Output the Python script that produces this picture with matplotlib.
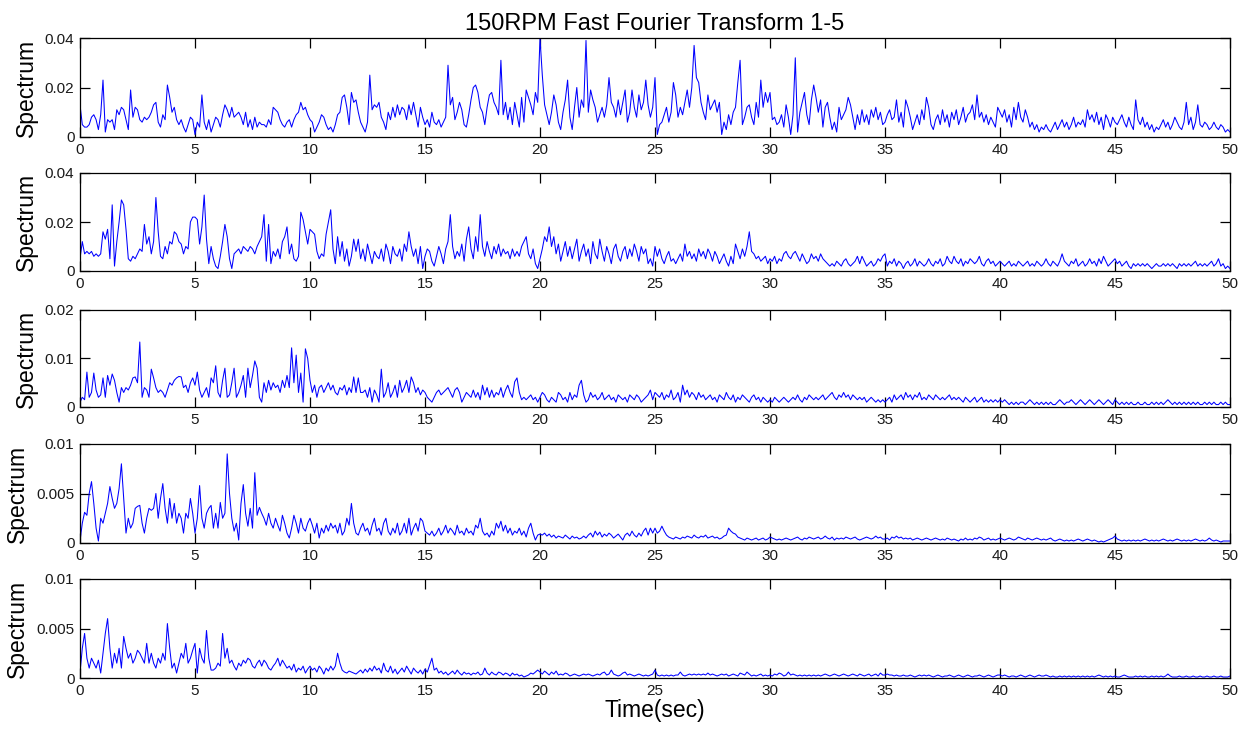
import numpy as np
import matplotlib
matplotlib.use("Agg")
import matplotlib.pyplot as plt

plt.rcParams['font.family'] = ['Liberation Sans', 'DejaVu Sans']

# Time axis shared by all five channels (0 to 50 s, 0.1 s resolution)
time_sec = np.linspace(0, 50, 501)

# Channel 1 spectrum, units of 1e-3
spectrum_1 = [
    13, 5, 4, 4, 5, 8, 9, 7, 3, 9,
    23, 2, 7, 6, 7, 3, 11, 9, 12, 11,
    7, 3, 19, 8, 12, 11, 7, 6, 8, 7,
    8, 10, 13, 14, 6, 4, 9, 7, 21, 16,
    10, 12, 7, 5, 7, 4, 2, 5, 8, 7,
    1, 6, 4, 17, 6, 3, 7, 2, 5, 8,
    7, 4, 9, 13, 11, 8, 12, 8, 9, 10,
    8, 5, 10, 4, 7, 3, 8, 4, 6, 5,
    5, 4, 7, 5, 12, 11, 10, 7, 5, 4,
    6, 7, 4, 7, 9, 10, 14, 11, 12, 9,
    7, 6, 2, 4, 6, 9, 8, 5, 3, 4,
    2, 5, 9, 10, 16, 17, 12, 5, 18, 14,
    15, 10, 6, 4, 2, 6, 25, 11, 13, 12,
    14, 8, 6, 3, 10, 7, 12, 8, 13, 9,
    12, 11, 7, 13, 9, 14, 9, 4, 12, 8,
    5, 7, 4, 10, 6, 5, 7, 4, 6, 8,
    29, 13, 16, 7, 10, 14, 11, 5, 4, 9,
    15, 20, 21, 18, 12, 10, 5, 12, 17, 18,
    14, 12, 9, 31, 9, 14, 7, 12, 5, 14,
    9, 4, 16, 6, 19, 16, 13, 9, 18, 14,
    40, 25, 13, 9, 5, 10, 17, 13, 6, 3,
    10, 15, 23, 8, 3, 12, 20, 8, 15, 12,
    39, 10, 19, 15, 12, 6, 9, 12, 8, 13,
    24, 14, 12, 8, 15, 9, 14, 19, 6, 10,
    19, 12, 8, 17, 11, 14, 23, 13, 8, 12,
    24, 1, 5, 6, 9, 12, 6, 10, 22, 17,
    8, 12, 9, 14, 19, 12, 20, 37, 24, 22,
    14, 10, 7, 17, 11, 13, 15, 10, 14, 1,
    6, 3, 9, 5, 10, 12, 22, 31, 5, 8,
    12, 13, 8, 5, 14, 8, 23, 12, 18, 14,
    18, 7, 8, 5, 6, 9, 4, 13, 8, 1,
    9, 32, 2, 10, 14, 18, 9, 5, 15, 21,
    16, 10, 15, 4, 12, 14, 8, 3, 6, 2,
    12, 7, 9, 11, 16, 13, 8, 3, 9, 5,
    11, 6, 9, 5, 11, 8, 12, 7, 10, 5,
    6, 9, 11, 7, 8, 15, 6, 10, 4, 15,
    12, 8, 3, 6, 9, 5, 11, 7, 16, 12,
    5, 3, 7, 9, 5, 11, 6, 9, 4, 10,
    7, 11, 5, 8, 12, 6, 9, 10, 13, 7,
    17, 8, 10, 6, 9, 5, 8, 6, 4, 12,
    10, 8, 11, 6, 9, 4, 12, 7, 14, 8,
    6, 11, 8, 4, 6, 3, 5, 2, 4, 3,
    5, 3, 2, 4, 6, 3, 5, 7, 4, 6,
    3, 5, 8, 4, 6, 5, 7, 4, 11, 7,
    9, 6, 10, 5, 8, 3, 9, 7, 4, 8,
    6, 5, 7, 9, 6, 4, 8, 5, 3, 15,
    7, 5, 8, 4, 6, 3, 5, 2, 4, 3,
    5, 7, 4, 6, 3, 5, 8, 6, 4, 3,
    6, 14, 5, 8, 3, 6, 13, 5, 4, 6,
    5, 3, 4, 6, 4, 3, 5, 4, 2, 3,
    2,
]

# Channel 2 spectrum, units of 1e-3
spectrum_2 = [
    5, 12, 7, 8, 7, 8, 6, 7, 6, 7,
    16, 13, 17, 5, 27, 2, 12, 20, 29, 27,
    17, 5, 4, 6, 5, 7, 9, 8, 19, 11,
    14, 7, 12, 30, 16, 6, 5, 10, 7, 12,
    11, 16, 15, 12, 11, 7, 10, 9, 20, 22,
    22, 21, 11, 18, 31, 13, 3, 10, 5, 2,
    1, 6, 12, 19, 14, 5, 1, 7, 8, 9,
    7, 10, 9, 8, 10, 9, 7, 10, 12, 14,
    23, 4, 19, 3, 8, 6, 9, 5, 12, 14,
    18, 7, 11, 5, 4, 6, 24, 21, 16, 11,
    17, 16, 15, 8, 5, 7, 6, 15, 20, 25,
    9, 3, 14, 6, 12, 4, 9, 2, 6, 13,
    8, 13, 5, 9, 4, 11, 7, 3, 8, 6,
    5, 9, 4, 11, 8, 3, 10, 7, 6, 9,
    4, 11, 8, 16, 10, 6, 9, 3, 10, 1,
    6, 9, 8, 4, 2, 6, 10, 7, 3, 9,
    12, 23, 10, 5, 8, 6, 11, 4, 13, 18,
    9, 5, 14, 8, 23, 10, 6, 12, 8, 5,
    10, 7, 11, 6, 9, 7, 8, 5, 9, 6,
    8, 6, 10, 12, 14, 7, 5, 9, 3, 1,
    5, 9, 14, 12, 18, 10, 14, 7, 11, 4,
    8, 12, 6, 10, 5, 9, 13, 4, 8, 11,
    6, 9, 3, 12, 7, 5, 13, 8, 4, 10,
    7, 3, 9, 11, 6, 4, 8, 10, 5, 9,
    6, 11, 8, 4, 10, 7, 9, 3, 5, 2,
    10, 6, 9, 5, 3, 6, 8, 4, 5, 3,
    5, 7, 4, 11, 6, 8, 5, 7, 4, 9,
    6, 8, 5, 9, 7, 4, 8, 6, 3, 5,
    7, 4, 2, 6, 3, 11, 8, 5, 9, 6,
    10, 16, 8, 7, 5, 6, 4, 5, 6, 3,
    5, 4, 6, 3, 5, 4, 7, 8, 6, 5,
    7, 8, 6, 4, 7, 5, 3, 4, 7, 5,
    6, 4, 7, 5, 4, 3, 2, 3, 2, 4,
    3, 2, 4, 5, 3, 2, 3, 4, 6, 3,
    6, 4, 2, 3, 4, 2, 3, 5, 4, 6,
    7, 2, 4, 3, 5, 2, 4, 3, 1, 3,
    4, 2, 3, 5, 2, 4, 3, 2, 3, 5,
    3, 2, 4, 3, 5, 2, 3, 6, 4, 3,
    6, 4, 3, 5, 2, 4, 3, 5, 4, 3,
    4, 6, 3, 2, 4, 5, 3, 4, 2, 3,
    4, 3, 2, 3, 4, 2, 3, 2, 4, 3,
    2, 3, 4, 2, 3, 2, 4, 3, 2, 3,
    5, 3, 2, 4, 3, 2, 4, 7, 4, 3,
    2, 4, 3, 5, 2, 3, 4, 2, 3, 5,
    3, 4, 2, 5, 3, 6, 4, 2, 3, 4,
    5, 3, 4, 2, 3, 4, 2, 1, 3, 2,
    3, 2, 3, 2, 3, 2, 1, 2, 3, 2,
    2, 3, 2, 3, 2, 3, 2, 1, 3, 2,
    3, 2, 3, 2, 3, 4, 2, 3, 2, 3,
    2, 3, 4, 2, 3, 5, 2, 3, 1, 2,
    1,
]

# Channel 3 spectrum, units of 1e-4
spectrum_3 = [
    10, 20, 15, 72, 20, 30, 70, 35, 20, 25,
    60, 20, 65, 45, 68, 55, 30, 10, 40, 30,
    40, 35, 45, 60, 62, 50, 134, 20, 40, 35,
    20, 78, 60, 40, 30, 35, 30, 20, 35, 50,
    45, 55, 60, 63, 62, 40, 45, 30, 50, 60,
    45, 72, 35, 20, 30, 40, 20, 60, 50, 85,
    30, 20, 55, 80, 20, 25, 50, 80, 20, 30,
    45, 65, 20, 80, 40, 65, 95, 80, 20, 10,
    50, 30, 55, 35, 50, 40, 45, 30, 55, 40,
    65, 40, 122, 50, 107, 30, 70, 10, 120, 100,
    55, 30, 45, 20, 40, 45, 30, 40, 50, 35,
    45, 30, 25, 40, 35, 45, 25, 40, 30, 62,
    30, 60, 30, 30, 35, 20, 40, 10, 35, 25,
    10, 78, 20, 30, 50, 20, 30, 45, 20, 55,
    30, 40, 55, 30, 62, 50, 30, 40, 25, 35,
    30, 20, 15, 10, 20, 30, 35, 25, 30, 35,
    40, 30, 20, 35, 40, 30, 10, 20, 30, 25,
    20, 35, 20, 30, 15, 45, 25, 40, 20, 35,
    20, 30, 25, 40, 20, 35, 45, 30, 20, 52,
    60, 30, 15, 20, 15, 20, 25, 15, 20, 10,
    20, 30, 25, 15, 10, 20, 15, 10, 30, 25,
    15, 20, 10, 30, 15, 25, 20, 45, 55, 25,
    10, 15, 30, 20, 25, 15, 20, 30, 15, 20,
    25, 15, 20, 10, 25, 20, 15, 20, 10, 25,
    20, 15, 25, 20, 10, 15, 20, 25, 35, 15,
    30, 25, 20, 30, 15, 25, 20, 35, 15, 20,
    30, 10, 45, 25, 35, 20, 30, 25, 15, 30,
    20, 25, 15, 20, 25, 15, 20, 10, 25, 20,
    15, 30, 20, 15, 25, 10, 20, 15, 25, 20,
    15, 10, 20, 25, 15, 20, 10, 20, 15, 10,
    15, 10, 20, 15, 10, 15, 20, 15, 10, 15,
    20, 15, 25, 15, 10, 20, 15, 25, 20, 15,
    20, 15, 20, 25, 15, 20, 25, 30, 20, 15,
    25, 20, 30, 20, 25, 15, 25, 20, 15, 20,
    15, 20, 10, 15, 20, 15, 10, 15, 10, 15,
    10, 15, 20, 10, 25, 15, 20, 25, 15, 30,
    20, 25, 15, 25, 20, 30, 15, 20, 15, 25,
    20, 15, 25, 20, 15, 20, 15, 20, 25, 15,
    20, 15, 20, 15, 10, 20, 15, 10, 15, 20,
    10, 15, 20, 10, 15, 10, 15, 10, 15, 10,
    15, 10, 15, 10, 5, 10, 5, 10, 5, 10,
    10, 5, 10, 15, 10, 5, 10, 5, 10, 5,
    10, 5, 10, 5, 5, 10, 15, 10, 5, 10,
    10, 15, 10, 5, 10, 15, 10, 5, 10, 15,
    10, 5, 10, 15, 10, 5, 10, 15, 10, 5,
    15, 10, 5, 10, 5, 10, 5, 10, 5, 5,
    10, 5, 5, 10, 5, 5, 10, 5, 10, 5,
    10, 5, 10, 15, 10, 5, 10, 5, 10, 5,
    10, 5, 10, 5, 10, 5, 10, 5, 5, 10,
    5, 10, 5, 10, 5, 5, 10, 5, 10, 5,
    5,
]

# Channel 4 spectrum, units of 1e-4
spectrum_4 = [
    2, 20, 31, 28, 50, 62, 40, 15, 2, 25,
    20, 30, 40, 57, 45, 35, 40, 55, 80, 45,
    10, 25, 15, 20, 35, 37, 38, 20, 10, 25,
    35, 33, 35, 50, 25, 45, 60, 35, 20, 45,
    25, 40, 20, 30, 25, 10, 30, 25, 45, 30,
    10, 25, 58, 25, 15, 30, 35, 38, 15, 30,
    15, 41, 25, 30, 90, 50, 25, 12, 20, 3,
    40, 59, 30, 17, 35, 15, 71, 28, 36, 30,
    25, 18, 30, 20, 15, 25, 18, 12, 28, 20,
    10, 5, 15, 28, 20, 10, 25, 15, 12, 20,
    25, 18, 10, 20, 5, 15, 10, 18, 12, 20,
    15, 18, 10, 20, 8, 12, 25, 18, 40, 20,
    10, 8, 15, 20, 12, 15, 8, 18, 25, 12,
    15, 8, 20, 25, 12, 8, 15, 10, 20, 8,
    12, 20, 10, 25, 8, 15, 20, 12, 25, 22,
    12, 10, 8, 12, 7, 10, 15, 8, 12, 18,
    10, 15, 12, 8, 18, 10, 12, 8, 15, 10,
    12, 8, 18, 15, 25, 12, 8, 10, 6, 12,
    8, 20, 15, 22, 12, 18, 10, 15, 8, 12,
    10, 15, 8, 12, 6, 15, 20, 10, 3, 8,
    9, 8, 10, 7, 9, 6, 8, 5, 7, 6,
    5, 8, 6, 4, 7, 5, 6, 4, 5, 7,
    5, 8, 10, 6, 12, 8, 11, 6, 9, 7,
    10, 8, 5, 7, 9, 6, 3, 8, 10, 7,
    12, 8, 6, 10, 7, 12, 15, 8, 15, 10,
    15, 10, 12, 17, 12, 8, 6, 5, 4, 6,
    5, 4, 6, 5, 7, 6, 5, 8, 6, 5,
    7, 6, 8, 5, 6, 7, 5, 6, 4, 5,
    7, 8, 15, 12, 10, 9, 6, 5, 4, 3,
    5, 4, 3, 4, 5, 3, 4, 5, 3, 4,
    6, 5, 4, 3, 4, 3, 4, 5, 4, 3,
    4, 5, 6, 4, 3, 5, 4, 6, 5, 4,
    5, 6, 4, 5, 7, 5, 4, 6, 3, 5,
    4, 5, 4, 6, 5, 4, 5, 6, 4, 3,
    4, 5, 6, 5, 4, 5, 7, 5, 6, 4,
    4, 5, 3, 6, 5, 7, 5, 6, 4, 5,
    4, 5, 3, 4, 5, 4, 3, 4, 5, 4,
    3, 4, 5, 4, 3, 4, 3, 5, 4, 3,
    4, 3, 2, 4, 3, 5, 3, 4, 3, 5,
    4, 6, 5, 3, 4, 5, 3, 4, 3, 4,
    5, 4, 3, 4, 5, 4, 3, 4, 6, 5,
    4, 3, 5, 4, 3, 4, 5, 4, 3, 4,
    3, 4, 5, 3, 2, 3, 4, 3, 2, 3,
    2, 3, 2, 3, 4, 3, 2, 3, 4, 3,
    2, 3, 2, 1, 2, 1, 2, 3, 4, 5,
    7, 4, 3, 2, 3, 2, 3, 2, 3, 2,
    3, 2, 3, 4, 3, 2, 3, 2, 3, 2,
    3, 4, 3, 2, 3, 2, 3, 4, 3, 2,
    3, 2, 3, 2, 3, 4, 3, 2, 3, 2,
    3, 5, 3, 2, 3, 2, 1, 2, 2, 2,
    2,
]

# Channel 5 spectrum, units of 1e-4
spectrum_5 = [
    5, 30, 45, 20, 10, 20, 15, 10, 18, 5,
    25, 45, 60, 30, 10, 25, 15, 30, 10, 42,
    30, 20, 25, 15, 20, 28, 25, 20, 15, 35,
    15, 25, 15, 10, 20, 15, 25, 18, 55, 30,
    10, 15, 5, 15, 25, 20, 35, 15, 20, 28,
    35, 5, 30, 20, 15, 48, 20, 8, 8, 10,
    15, 12, 45, 20, 30, 15, 18, 12, 8, 15,
    12, 18, 15, 20, 18, 12, 10, 15, 18, 12,
    18, 15, 10, 8, 12, 15, 20, 12, 18, 14,
    10, 12, 8, 14, 6, 10, 8, 12, 5, 9,
    12, 8, 10, 6, 12, 9, 4, 10, 7, 12,
    8, 12, 25, 15, 8, 6, 5, 7, 6, 5,
    4, 6, 8, 5, 9, 6, 10, 7, 12, 8,
    10, 5, 15, 8, 6, 12, 5, 9, 4, 7,
    10, 6, 12, 8, 4, 10, 7, 5, 8, 4,
    9, 6, 13, 20, 8, 10, 5, 7, 4, 6,
    3, 5, 7, 4, 8, 5, 3, 6, 4, 5,
    3, 5, 4, 6, 3, 4, 10, 5, 3, 6,
    4, 3, 6, 5, 3, 5, 4, 2, 5, 3,
    4, 2, 3, 1, 2, 3, 5, 4, 6, 8,
    6, 4, 7, 5, 3, 6, 4, 7, 3, 4,
    3, 5, 4, 2, 3, 4, 3, 2, 3, 4,
    3, 4, 3, 2, 3, 4, 3, 5, 6, 3,
    4, 8, 4, 3, 2, 3, 5, 6, 3, 4,
    3, 2, 3, 4, 3, 2, 3, 2, 3, 4,
    8, 3, 2, 3, 2, 3, 2, 3, 2, 3,
    3, 6, 3, 2, 3, 4, 3, 4, 3, 4,
    3, 4, 3, 5, 3, 4, 3, 2, 3, 4,
    3, 4, 2, 3, 4, 3, 2, 5, 4, 3,
    6, 4, 2, 3, 2, 3, 4, 2, 3, 2,
    3, 2, 4, 3, 5, 4, 2, 3, 6, 3,
    4, 3, 2, 3, 2, 3, 2, 3, 2, 3,
    2, 3, 2, 3, 4, 3, 2, 3, 4, 3,
    2, 3, 4, 3, 2, 3, 4, 3, 2, 4,
    3, 2, 3, 4, 2, 3, 4, 2, 5, 3,
    3, 4, 3, 3, 2, 3, 2, 2, 3, 2,
    2, 3, 2, 1, 2, 3, 2, 3, 2, 3,
    2, 1, 2, 3, 2, 1, 2, 2, 3, 2,
    1, 2, 3, 2, 1, 2, 3, 2, 1, 2,
    2, 3, 2, 1, 2, 3, 2, 1, 2, 3,
    3, 2, 3, 2, 1, 2, 2, 1, 2, 3,
    2, 1, 2, 3, 2, 1, 2, 3, 2, 2,
    3, 2, 1, 2, 1, 1, 2, 1, 2, 1,
    2, 1, 2, 1, 2, 1, 2, 1, 2, 1,
    2, 1, 2, 3, 2, 1, 2, 1, 2, 1,
    2, 1, 1, 2, 3, 2, 1, 1, 1, 2,
    1, 2, 1, 2, 1, 1, 2, 1, 2, 1,
    2, 1, 2, 4, 2, 1, 1, 1, 2, 1,
    1, 2, 1, 1, 2, 1, 1, 2, 1, 1,
    2, 1, 1, 2, 1, 1, 2, 1, 1, 1,
    2,
]

series = [
    np.array(spectrum_1) * 1e-3,
    np.array(spectrum_2) * 1e-3,
    np.array(spectrum_3) * 1e-4,
    np.array(spectrum_4) * 1e-4,
    np.array(spectrum_5) * 1e-4,
]

y_limits = [0.04, 0.04, 0.02, 0.01, 0.01]
y_ticks = [[0, 0.02, 0.04], [0, 0.02, 0.04], [0, 0.01, 0.02],
           [0, 0.005, 0.01], [0, 0.005, 0.01]]
y_ticklabels = [["0", "0.02", "0.04"], ["0", "0.02", "0.04"], ["0", "0.01", "0.02"],
                ["0", "0.005", "0.01"], ["0", "0.005", "0.01"]]
x_ticks = list(range(0, 51, 5))

W, H = 1245, 731
fig = plt.figure(figsize=(W / 100, H / 100), dpi=100)

# panel extents in pixels: (top, bottom)
panel_px = [(38, 137), (173, 271), (310, 407), (444, 543), (579, 678)]
left_px, right_px = 80, 1230
text_color = "#1a1a1a"

axes = []
for i, (top, bot) in enumerate(panel_px):
    ax = fig.add_axes([left_px / W, 1 - bot / H, (right_px - left_px) / W, (bot - top) / H])
    ax.plot(time_sec[:len(series[i])], series[i], color=(0, 0, 1), lw=0.75)
    ax.set_xlim(0, 50)
    ax.set_ylim(0, y_limits[i])
    ax.set_xticks(x_ticks)
    ax.set_xticklabels([str(t) for t in x_ticks])
    ax.set_yticks(y_ticks[i])
    ax.set_yticklabels(y_ticklabels[i])
    ax.tick_params(direction='in', top=True, right=True, length=7, width=0.9,
                   labelsize=11, pad=4, labelcolor=text_color)
    for sp in ax.spines.values():
        sp.set_linewidth(0.9)
    ax.set_ylabel("Spectrum", fontsize=16.5, labelpad=5, color="black")
    axes.append(ax)

axes[0].set_title("150RPM Fast Fourier Transform 1-5", fontsize=17, pad=6)
axes[-1].set_xlabel("Time(sec)", fontsize=16.5, labelpad=1)

fig.savefig("out.png", dpi=100)
